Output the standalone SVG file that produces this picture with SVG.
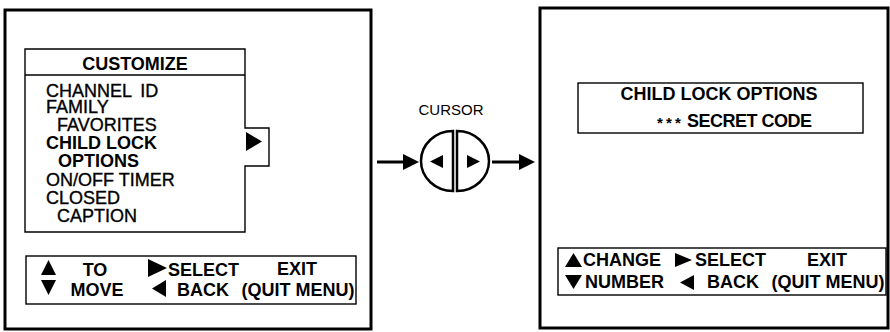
<svg xmlns="http://www.w3.org/2000/svg" width="890" height="332" viewBox="0 0 890 332">
<style>
  text { font-family: "Liberation Sans", Arial, Helvetica, sans-serif; fill: #000; }
  .m { font-size: 18px; stroke: #000; stroke-width: 0.35; }
  .b { font-size: 18px; font-weight: bold; }
  .c { font-size: 15px; }
  .panel { fill: #fff; stroke: #000; stroke-width: 3; }
  .box { fill: #fff; stroke: #000; stroke-width: 1.4; }
  .tri { fill: #000; }
  .conn { stroke: #000; stroke-width: 3; fill: none; }
</style>
<rect width="890" height="332" fill="#fff"/>

<g id="left-screen">
  <rect class="panel" x="5" y="10" width="366" height="319"/>
  <g id="customize-menu">
    <path class="box" d="M25,49 H245 V128 H269 V166 H245 V232 H25 Z"/>
    <line x1="25" y1="75" x2="245" y2="75" stroke="#000" stroke-width="1.4"/>
    <polygon class="tri" points="246,132 262,141.5 246,151"/>
    <text class="b" x="135" y="70" text-anchor="middle">CUSTOMIZE</text>
    <text class="m" x="46" y="97" style="word-spacing:4px">CHANNEL ID</text>
    <text class="m" x="46" y="113">FAMILY</text>
    <text class="m" x="57" y="131">FAVORITES</text>
    <text class="b" x="46" y="149">CHILD LOCK</text>
    <text class="b" x="58" y="167">OPTIONS</text>
    <text class="m" x="46" y="186">ON/OFF TIMER</text>
    <text class="m" x="46" y="204">CLOSED</text>
    <text class="m" x="57" y="222">CAPTION</text>
  </g>
  <g id="left-legend">
    <rect class="box" x="26" y="256" width="330" height="48"/>
    <polygon class="tri" points="48.5,260 56,275 41,275"/>
    <polygon class="tri" points="41,280 56,280 48.5,295"/>
    <text class="b" x="95" y="276" text-anchor="middle">TO</text>
    <text class="b" x="97" y="296" text-anchor="middle">MOVE</text>
    <polygon class="tri" points="148,259 167,268 148,277"/>
    <text class="b" x="168" y="276">SELECT</text>
    <polygon class="tri" points="166,280 152,288.5 166,297"/>
    <text class="b" x="177" y="296">BACK</text>
    <text class="b" x="297" y="275" text-anchor="middle">EXIT</text>
    <text class="b" x="298" y="296" text-anchor="middle">(QUIT MENU)</text>
  </g>
</g>

<g id="cursor">
  <text class="c" x="451" y="115" text-anchor="middle">CURSOR</text>
  <path d="M453,131 A32,30 0 0 0 453,191 Z" fill="#fff" stroke="#000" stroke-width="2.5"/>
  <path d="M457,131 A32,30 0 0 1 457,191 Z" fill="#fff" stroke="#000" stroke-width="2.5"/>
  <polygon class="tri" points="443,155 430,161.5 443,168"/>
  <polygon class="tri" points="467,155 480,161.5 467,168"/>
</g>

<g id="connectors">
  <line class="conn" x1="377" y1="162" x2="408" y2="162"/>
  <polygon class="tri" points="403,154 419,162 403,170"/>
  <line class="conn" x1="492" y1="162" x2="523" y2="162"/>
  <polygon class="tri" points="519,154 535,162 519,170"/>
</g>

<g id="right-screen">
  <rect class="panel" x="540" y="8" width="348" height="320"/>
  <g id="child-lock-box">
    <rect class="box" x="578" y="83" width="285" height="50"/>
    <text class="b" x="719" y="100" text-anchor="middle">CHILD LOCK OPTIONS</text>
    <text class="b" x="657" y="128" style="font-size:15px">*</text>
    <text class="b" x="666" y="128" style="font-size:15px">*</text>
    <text class="b" x="675" y="128" style="font-size:15px">*</text>
    <text class="b" x="687" y="127" textLength="125">SECRET CODE</text>
  </g>
  <g id="right-legend">
    <rect class="box" x="558" y="248" width="328" height="47"/>
    <polygon class="tri" points="573.5,253 582,267 565,267"/>
    <text class="b" x="583" y="266">CHANGE</text>
    <polygon class="tri" points="565,275 582,275 573.5,289"/>
    <text class="b" x="585" y="288">NUMBER</text>
    <polygon class="tri" points="675,253 692,260 675,267"/>
    <text class="b" x="695" y="266">SELECT</text>
    <polygon class="tri" points="694,275 680,282.5 694,290"/>
    <text class="b" x="707" y="288">BACK</text>
    <text class="b" x="827" y="266" text-anchor="middle">EXIT</text>
    <text class="b" x="828" y="288" text-anchor="middle">(QUIT MENU)</text>
  </g>
</g>
</svg>
